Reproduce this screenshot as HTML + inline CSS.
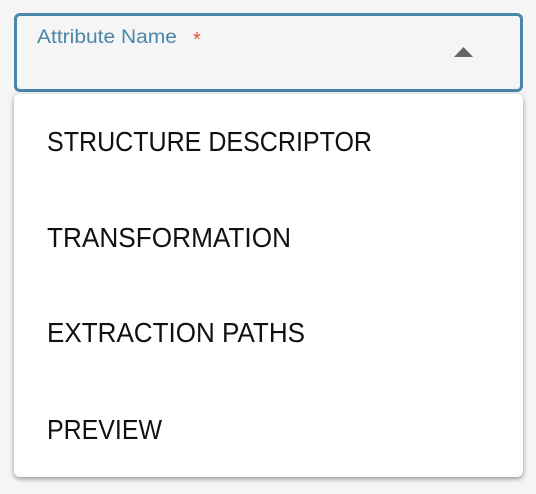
<!DOCTYPE html>
<html><head><style>
html,body{margin:0;padding:0;background:#f5f5f5;width:536px;height:494px;overflow:hidden;}
.field{position:absolute;left:14px;top:13px;width:503px;height:73px;border:3px solid #4a86a8;border-radius:6px;background:#f5f5f5;}
.menu{position:absolute;left:14px;top:94px;width:509px;height:383px;background:#fff;border-radius:6px;box-shadow:0 2px 4px rgba(0,0,0,0.3),0 1px 8px rgba(0,0,0,0.12);}
svg{position:absolute;left:0;top:0;}
</style></head><body>
<div class="field"></div>
<div class="menu"></div>
<svg width="536" height="494" font-family="Liberation Sans, sans-serif">
<text x="37" y="43" font-size="19" fill="#4a86a8" textLength="140" lengthAdjust="spacingAndGlyphs">Attribute Name</text>
<text x="193" y="46" font-size="20" fill="#e0533f">*</text>
<polygon points="454,57 473,57 463.5,47" fill="#666"/>
<g font-size="28" fill="#111" lengthAdjust="spacingAndGlyphs">
<text x="47" y="151" textLength="325" lengthAdjust="spacingAndGlyphs">STRUCTURE DESCRIPTOR</text>
<text x="47" y="247" textLength="244" lengthAdjust="spacingAndGlyphs">TRANSFORMATION</text>
<text x="47" y="342" textLength="258" lengthAdjust="spacingAndGlyphs">EXTRACTION PATHS</text>
<text x="47" y="439" textLength="115" lengthAdjust="spacingAndGlyphs">PREVIEW</text>
</g>
</svg>
</body></html>
